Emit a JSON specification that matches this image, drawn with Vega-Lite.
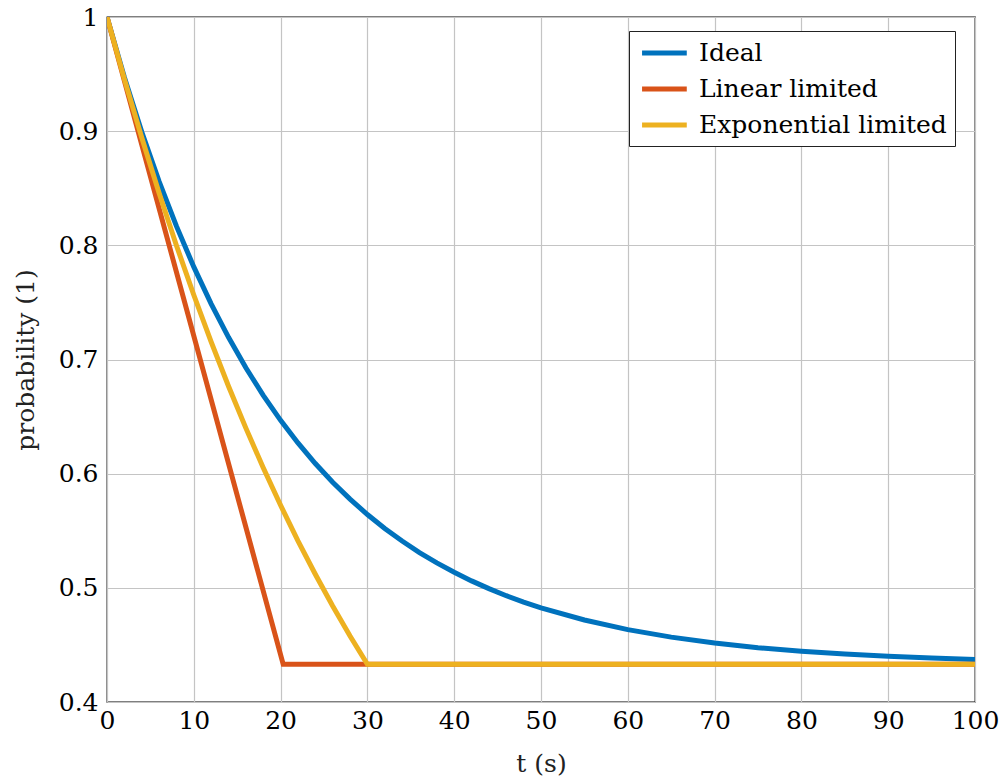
{
  "$schema": "https://vega.github.io/schema/vega-lite/v6.json",
  "width": 868,
  "height": 685,
  "autosize": {"type": "none"},
  "padding": {"left": 107, "top": 17, "right": 28, "bottom": 80},
  "background": "white",
  "config": {
    "font": "DejaVu Serif",
    "view": {"stroke": "black", "strokeWidth": 1.3},
    "axis": {
      "grid": true,
      "gridColor": "#c4c4c4",
      "gridWidth": 1.2,
      "domain": false,
      "ticks": false,
      "labelFont": "DejaVu Serif",
      "labelFontSize": 25,
      "labelColor": "black",
      "titleFont": "DejaVu Serif",
      "titleFontSize": 25,
      "titleFontWeight": "normal",
      "titleColor": "#222222"
    }
  },
  "datasets": {
    "curves": [
      {"t": 0, "p": 1.0, "series": "Ideal"},
      {"t": 2, "p": 0.9473, "series": "Ideal"},
      {"t": 4, "p": 0.8995, "series": "Ideal"},
      {"t": 6, "p": 0.8561, "series": "Ideal"},
      {"t": 8, "p": 0.8168, "series": "Ideal"},
      {"t": 10, "p": 0.7811, "series": "Ideal"},
      {"t": 12, "p": 0.7488, "series": "Ideal"},
      {"t": 14, "p": 0.7194, "series": "Ideal"},
      {"t": 16, "p": 0.6928, "series": "Ideal"},
      {"t": 18, "p": 0.6686, "series": "Ideal"},
      {"t": 20, "p": 0.6467, "series": "Ideal"},
      {"t": 22, "p": 0.6269, "series": "Ideal"},
      {"t": 24, "p": 0.6089, "series": "Ideal"},
      {"t": 26, "p": 0.5925, "series": "Ideal"},
      {"t": 28, "p": 0.5777, "series": "Ideal"},
      {"t": 30, "p": 0.5642, "series": "Ideal"},
      {"t": 32, "p": 0.552, "series": "Ideal"},
      {"t": 34, "p": 0.541, "series": "Ideal"},
      {"t": 36, "p": 0.5309, "series": "Ideal"},
      {"t": 38, "p": 0.5218, "series": "Ideal"},
      {"t": 40, "p": 0.5136, "series": "Ideal"},
      {"t": 42, "p": 0.5061, "series": "Ideal"},
      {"t": 44, "p": 0.4993, "series": "Ideal"},
      {"t": 46, "p": 0.4931, "series": "Ideal"},
      {"t": 48, "p": 0.4875, "series": "Ideal"},
      {"t": 50, "p": 0.4825, "series": "Ideal"},
      {"t": 55, "p": 0.4718, "series": "Ideal"},
      {"t": 60, "p": 0.4634, "series": "Ideal"},
      {"t": 65, "p": 0.4568, "series": "Ideal"},
      {"t": 70, "p": 0.4517, "series": "Ideal"},
      {"t": 75, "p": 0.4476, "series": "Ideal"},
      {"t": 80, "p": 0.4444, "series": "Ideal"},
      {"t": 85, "p": 0.442, "series": "Ideal"},
      {"t": 90, "p": 0.44, "series": "Ideal"},
      {"t": 95, "p": 0.4385, "series": "Ideal"},
      {"t": 100, "p": 0.4373, "series": "Ideal"},
      {"t": 0, "p": 1.0, "series": "Linear limited"},
      {"t": 20.3, "p": 0.433, "series": "Linear limited"},
      {"t": 100, "p": 0.433, "series": "Linear limited"},
      {"t": 0, "p": 1.0, "series": "Exponential limited"},
      {"t": 2, "p": 0.9457, "series": "Exponential limited"},
      {"t": 4, "p": 0.8944, "series": "Exponential limited"},
      {"t": 6, "p": 0.8458, "series": "Exponential limited"},
      {"t": 8, "p": 0.7999, "series": "Exponential limited"},
      {"t": 10, "p": 0.7565, "series": "Exponential limited"},
      {"t": 12, "p": 0.7154, "series": "Exponential limited"},
      {"t": 14, "p": 0.6766, "series": "Exponential limited"},
      {"t": 16, "p": 0.6399, "series": "Exponential limited"},
      {"t": 18, "p": 0.6052, "series": "Exponential limited"},
      {"t": 20, "p": 0.5723, "series": "Exponential limited"},
      {"t": 22, "p": 0.5412, "series": "Exponential limited"},
      {"t": 24, "p": 0.5119, "series": "Exponential limited"},
      {"t": 26, "p": 0.4841, "series": "Exponential limited"},
      {"t": 28, "p": 0.4578, "series": "Exponential limited"},
      {"t": 30, "p": 0.433, "series": "Exponential limited"},
      {"t": 100, "p": 0.433, "series": "Exponential limited"}
    ]
  },
  "data": {"name": "curves"},
  "encoding": {
    "x": {
      "field": "t", "type": "quantitative",
      "scale": {"domain": [0, 100], "nice": false},
      "axis": {"title": "t (s)", "values": [0,10,20,30,40,50,60,70,80,90,100], "labelPadding": 6, "titlePadding": 18, "labelFlush": false}
    },
    "y": {
      "field": "p", "type": "quantitative",
      "scale": {"domain": [0.4, 1], "nice": false, "zero": false},
      "axis": {"title": "probability (1)", "values": [0.4,0.5,0.6,0.7,0.8,0.9,1], "labelExpr": "datum.value == 1 ? '1' : format(datum.value, '.1f')", "labelPadding": 9, "titlePadding": 20, "labelFlush": false}
    },
    "color": {
      "field": "series", "type": "nominal",
      "scale": {"domain": ["Ideal", "Linear limited", "Exponential limited"], "range": ["#0072BD", "#D95319", "#EDB120"]},
      "legend": {
        "title": null,
        "orient": "none",
        "legendX": 522,
        "legendY": 14,
        "symbolType": "M-0.8,0H3.2",
        "symbolSize": 500,
        "symbolStrokeWidth": 5,
        "symbolFillColor": "transparent",
        "labelFontSize": 25,
        "labelFont": "DejaVu Serif",
        "labelColor": "black",
        "labelLimit": 500,
        "strokeColor": "#222222",
        "fillColor": "white",
        "padding": 8,
        "rowPadding": 9,
        "labelOffset": 34
      }
    }
  },
  "layer": [
    {"transform": [{"filter": "datum.series == 'Ideal'"}], "mark": {"type": "line", "strokeWidth": 5, "clip": true}},
    {"transform": [{"filter": "datum.series == 'Linear limited'"}], "mark": {"type": "line", "strokeWidth": 5, "clip": true}},
    {"transform": [{"filter": "datum.series == 'Exponential limited'"}], "mark": {"type": "line", "strokeWidth": 5, "clip": true}}
  ]
}
